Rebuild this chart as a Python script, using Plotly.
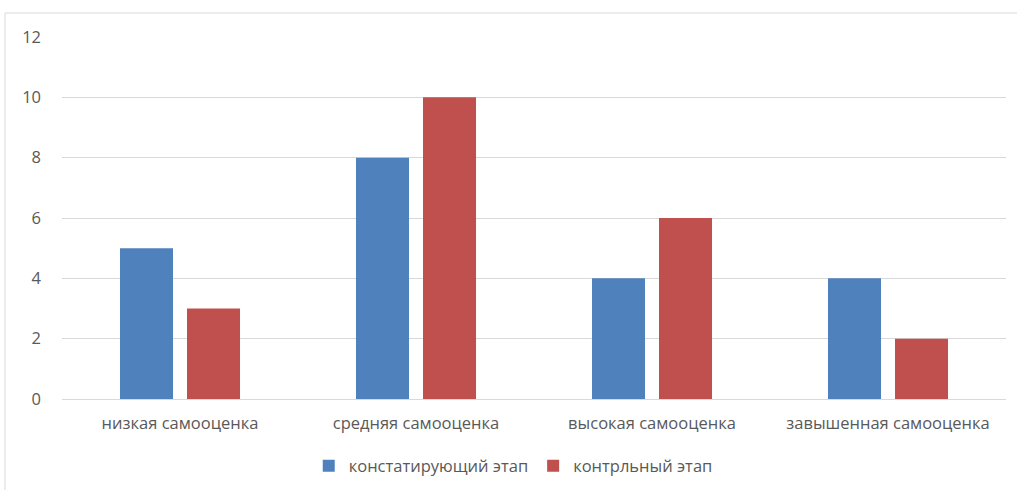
import plotly.graph_objects as go

categories = ["низкая самооценка", "средняя самооценка", "высокая самооценка", "завышенная самооценка"]
series_names = ["констатирующий этап", "контрльный этап"]
stage1 = [5, 8, 4, 4]
stage2 = [3, 10, 6, 2]
colors = ["#4F81BD", "#C0504D"]

W, H = 1017, 490
ml, mr, mt, mb = 62, 11, 37, 91
pw, ph = W - ml - mr, H - mt - mb

fig = go.Figure()
for name, vals, c in zip(series_names, [stage1, stage2], colors):
    fig.add_trace(go.Bar(x=categories, y=vals, name=name, marker=dict(color=c, line=dict(width=0))))

font = "Open Sans"
fs = 16.5
fig.update_layout(
    width=W, height=H,
    margin=dict(l=ml, r=mr, t=mt, b=mb, autoexpand=False),
    paper_bgcolor="white", plot_bgcolor="white",
    barmode="group", bargap=0.432, bargroupgap=0.209,
    font=dict(family=font, size=fs, color="#595959"),
    showlegend=True,
    legend=dict(orientation="h", x=0.478, xanchor="center", y=-0.185, yanchor="middle",
                font=dict(size=fs, color="#595959"), itemwidth=30, tracegroupgap=0),
    xaxis=dict(showgrid=False, showline=False, zeroline=False, ticks="", ticklabelstandoff=12,
               automargin=False, tickfont=dict(size=fs, color="#595959")),
    yaxis=dict(range=[0, 12], dtick=2, showgrid=True, gridcolor="#D9D9D9", gridwidth=1,
               zeroline=True, zerolinecolor="#D9D9D9", zerolinewidth=1, showline=False,
               automargin=False, ticks="", ticklabelstandoff=20,
               tickfont=dict(size=fs, color="#595959")),
)

x0 = (5 - ml) / pw
y1 = 1 + (mt - 13) / ph
fig.add_shape(type="rect", xref="paper", yref="paper", x0=x0, x1=1 + (mr + 5) / pw,
              y0=-(mb + 5) / ph, y1=y1, line=dict(color="#D9D9D9", width=1), layer="below")

fig.write_html("out.html", config={"displayModeBar": False},
               post_script="document.body.style.margin='0';document.body.style.overflow='hidden';")
